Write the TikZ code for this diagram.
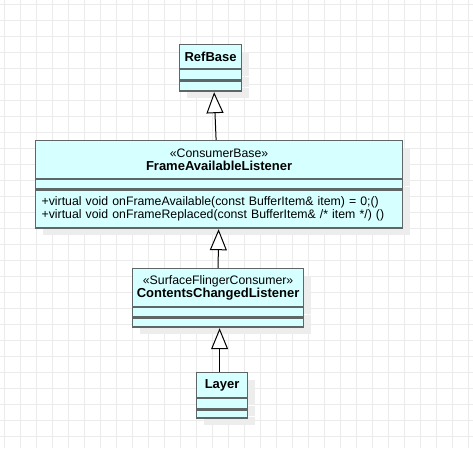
\documentclass[tikz,border=0pt]{standalone}
\usepackage{fontspec}
\setmainfont{Liberation Sans}
\usepackage{tikz}
\usetikzlibrary{positioning,arrows.meta,shadows}

\definecolor{umlfill}{HTML}{D6FFFF}
\definecolor{umlline}{HTML}{5F6666}
\definecolor{gridgrey}{HTML}{EBEBEB}
\definecolor{shadegrey}{HTML}{EDEDED}
\newcommand{\clsname}[1]{{\fontsize{13}{13}\selectfont\bfseries #1}}

\begin{document}
\begin{tikzpicture}[
x=1pt, y=-1pt,
font=\fontsize{12.3}{13}\selectfont,
part/.style={draw=umlline, fill=umlfill, line width=1.2pt, inner sep=0pt, align=center,
  drop shadow={shadow xshift=7pt, shadow yshift=-7pt, fill=shadegrey, opacity=1}},
gridline/.style={draw=gridgrey, line width=0.8pt},
gen/.style={-{Triangle[width=17pt, length=21pt, fill=white]}, line width=1pt, shorten >=0.6pt}
]
\useasboundingbox (0,0) rectangle (473,448);
\fill[white] (0,0) rectangle (473,448);
\foreach \gx in {4,20,...,468} \draw[gridline] (\gx,0) -- (\gx,448);
\foreach \gy in {4,20,...,436} \draw[gridline] (0,\gy) -- (473,\gy);

% RefBase
\node[part, anchor=north west, minimum width=62pt, minimum height=24pt] (refbase) at (179,44) {\clsname{RefBase}};
\node[part, below=0pt of refbase, minimum width=62pt, minimum height=10pt] (refbaseattr) {};
\node[part, below=0pt of refbaseattr, minimum width=62pt, minimum height=10pt] (refbaseops) {};

% FrameAvailableListener
\node[part, anchor=north west, minimum width=367pt, minimum height=38pt] (frame) at (35,140)
  {«ConsumerBase»\\\clsname{FrameAvailableListener}};
\node[part, below=0pt of frame, minimum width=367pt, minimum height=9pt] (frameattr) {};
\node[part, below=0pt of frameattr, minimum width=367pt, minimum height=38pt, align=left,
  text width=355pt, inner xsep=6pt] (frameops)
  {+virtual void onFrameAvailable(const BufferItem\& item) = 0;()\\
   +virtual void onFrameReplaced(const BufferItem\& /* item */) ()};

% ContentsChangedListener
\node[part, anchor=north west, minimum width=171pt, minimum height=38pt] (contents) at (132,268)
  {«SurfaceFlingerConsumer»\\\clsname{ContentsChangedListener}};
\node[part, below=0pt of contents, minimum width=171pt, minimum height=9pt] (contentsattr) {};
\node[part, below=0pt of contentsattr, minimum width=171pt, minimum height=9pt] (contentsops) {};

% Layer
\node[part, anchor=north west, minimum width=51pt, minimum height=25pt] (layer) at (196,372) {\clsname{Layer}};
\node[part, below=0pt of layer, minimum width=51pt, minimum height=10pt] (layerattr) {};
\node[part, below=0pt of layerattr, minimum width=51pt, minimum height=8pt] (layerops) {};

\draw[gen] ([xshift=-3pt]frame.north) -- ([xshift=3.5pt]refbaseops.south);
\draw[gen] ([xshift=0pt]contents.north) -- ([xshift=-0.5pt]frameops.south);
\draw[gen] ([xshift=-2.5pt]layer.north) -- ([xshift=1.5pt]contentsops.south);
\end{tikzpicture}
\end{document}
